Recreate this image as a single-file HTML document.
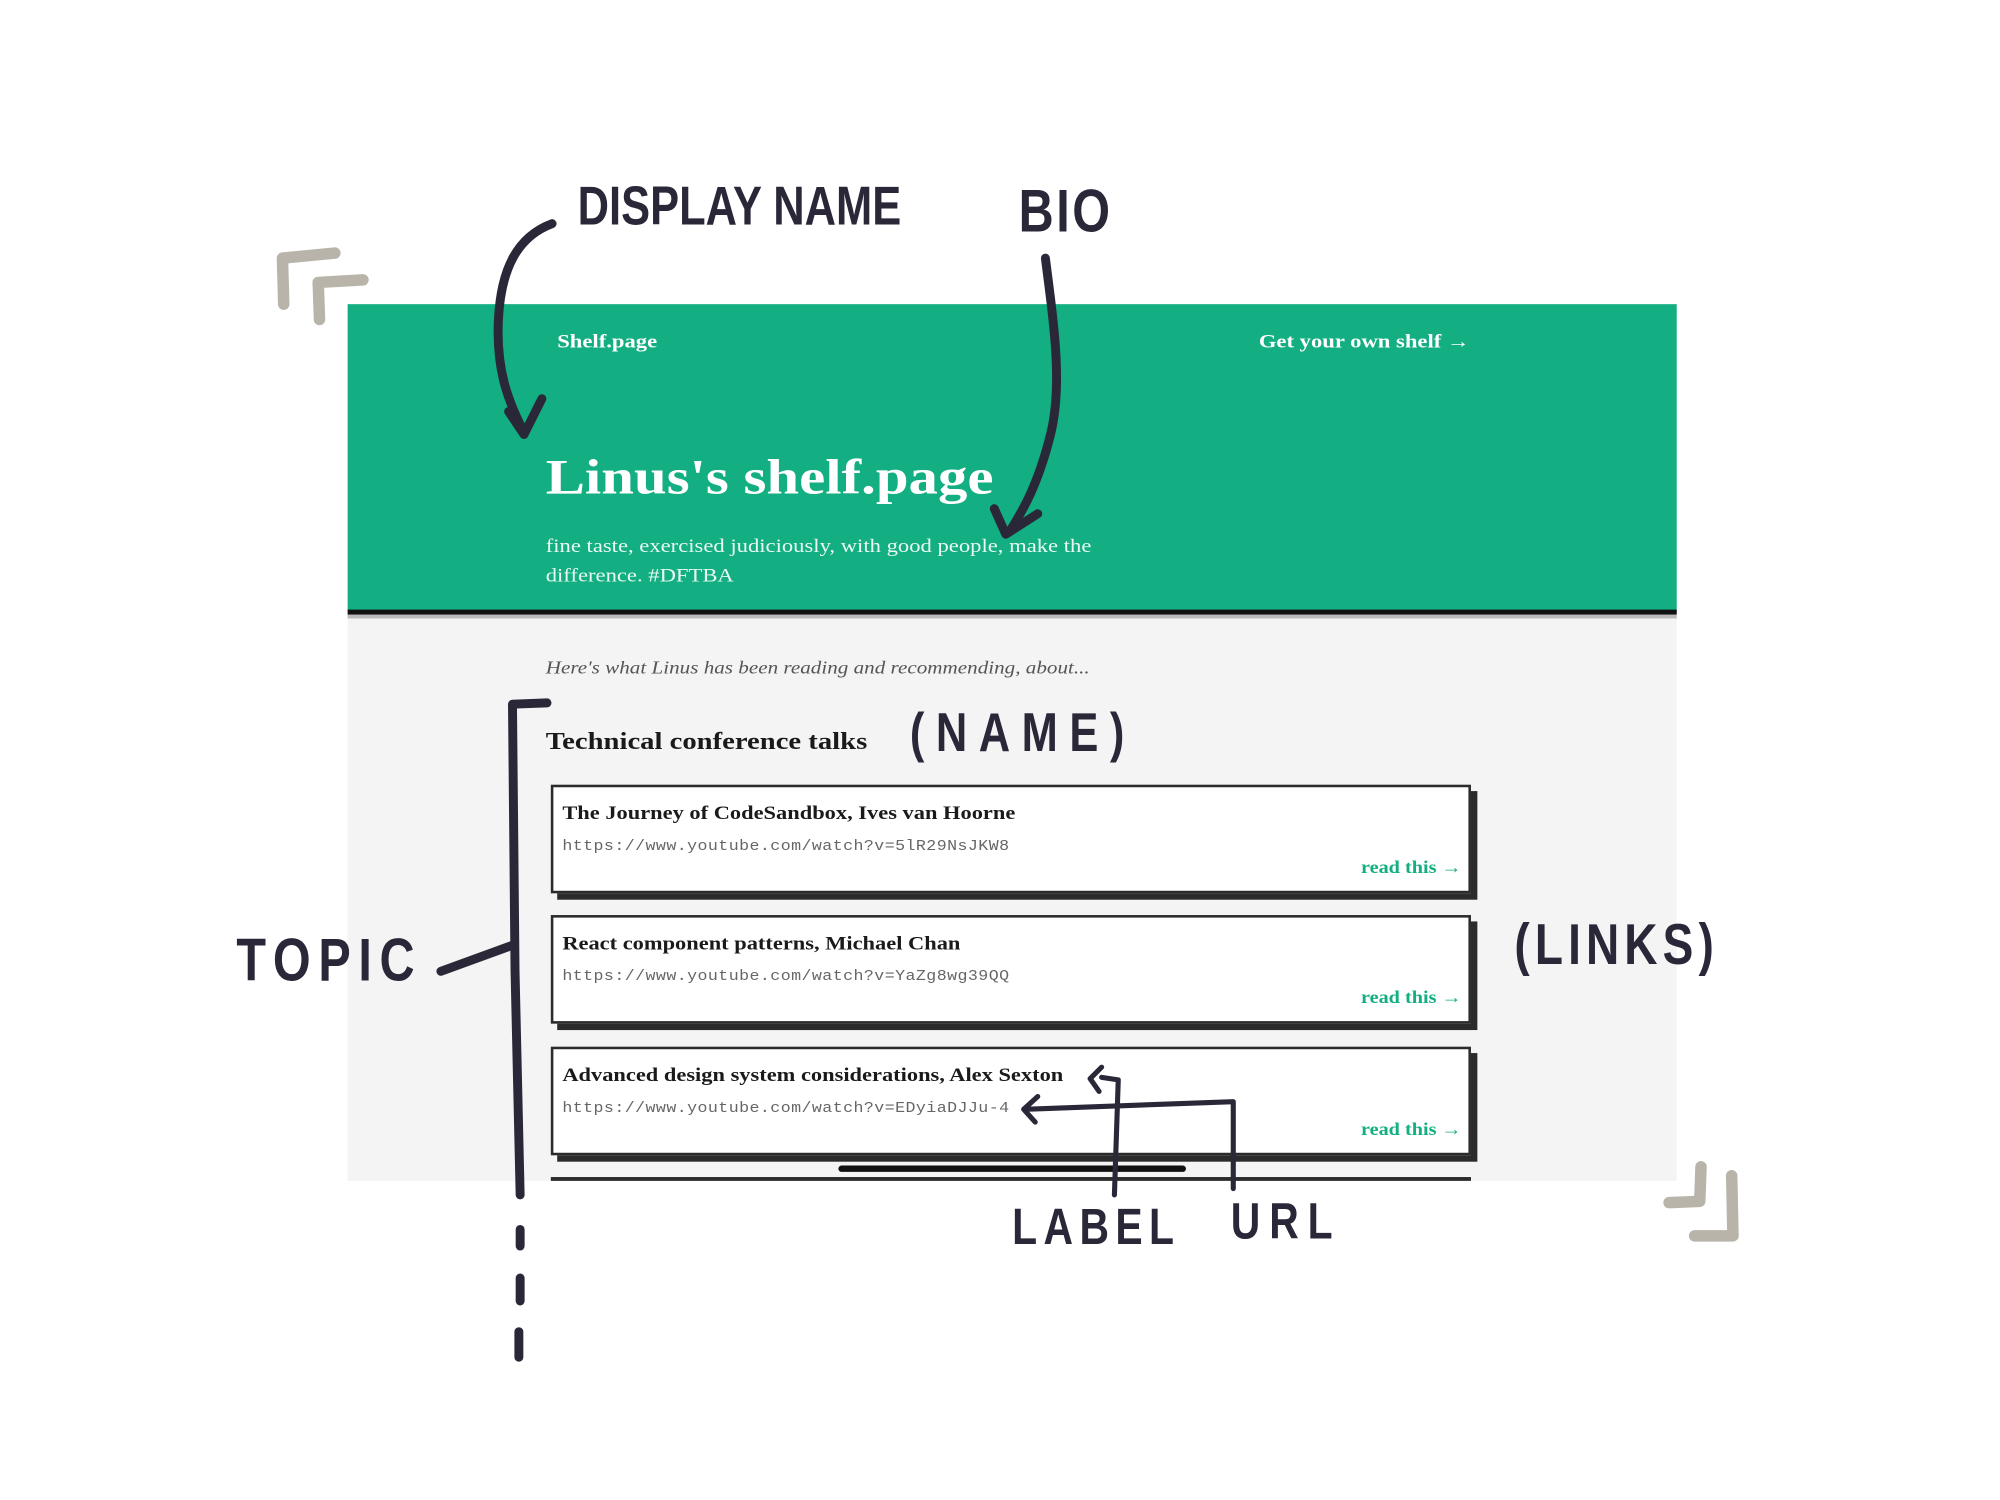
<!DOCTYPE html>
<html><head><meta charset="utf-8"><style>
html,body{margin:0;padding:0;background:#fff;width:2000px;height:1500px;overflow:hidden}
#w{position:absolute;left:0;top:0;width:1562px;height:1172px;transform:scale(1.278,1.278);transform-origin:0 0;font-family:"Liberation Serif",serif}
.a{position:absolute;white-space:nowrap;transform:scaleX(1.18);transform-origin:0 0}
.hdr{position:absolute;left:272px;top:238px;width:1040px;height:240px;background:#13ae81}
.bb{position:absolute;left:272px;top:477px;width:1040px;height:4px;background:#111}
.bs{position:absolute;left:272px;top:481px;width:1040px;height:3px;background:#bbb}
.gray{position:absolute;left:272px;top:484px;width:1040px;height:440px;background:#f4f4f4}
.card{position:absolute;left:431px;width:716px;height:81px;background:#fff;border:2px solid #2b2b2b;box-shadow:5px 5px 0 #2b2b2b}
.ct{position:absolute;left:7px;top:13px;font-weight:bold;font-size:15px;color:#1a1a1a;transform:scaleX(1.17);transform-origin:0 0;white-space:nowrap}
.cu{position:absolute;left:7px;top:40px;font-family:"Liberation Mono",monospace;font-size:11.5px;color:#666;letter-spacing:0.3px;transform:scaleX(1.13);transform-origin:0 0;white-space:nowrap}
.cr{position:absolute;right:5px;top:56px;font-weight:bold;font-size:14px;color:#13ae81;transform:scaleX(1.13);transform-origin:100% 0;white-space:nowrap}
.hw{position:absolute;font-family:"Liberation Sans Narrow","Liberation Sans",sans-serif;font-weight:bold;color:#2a2838;white-space:nowrap;transform:scaleY(1.25);transform-origin:0 0}
</style></head><body><div id="w">
<div class="hdr"></div><div class="bb"></div><div class="bs"></div><div class="gray"></div>
<div class="a" style="left:436px;top:260px;font-size:15px;font-weight:bold;color:#fff">Shelf.page</div>
<div class="a" style="left:985px;top:260px;font-size:15px;font-weight:bold;color:#fff">Get your own shelf →</div>
<div class="a" style="left:427px;top:351px;font-size:39px;font-weight:bold;color:#fff">Linus's shelf.page</div>
<div class="a" style="left:427px;top:417px;font-size:15px;line-height:23px;color:#eafaf3">fine taste, exercised judiciously, with good people, make the<br>difference. #DFTBA</div>
<div class="a" style="left:427px;top:516px;font-size:14px;font-style:italic;color:#555">Here's what Linus has been reading and recommending, about...</div>
<div class="a" style="left:427px;top:570px;font-size:19px;font-weight:bold;color:#1a1a1a">Technical conference talks</div>
<div class="card" style="top:614px"><div class="ct">The Journey of CodeSandbox, Ives van Hoorne</div><div class="cu">https://www.youtube.com/watch?v=5lR29NsJKW8</div><div class="cr">read this →</div></div>
<div class="card" style="top:716px"><div class="ct">React component patterns, Michael Chan</div><div class="cu">https://www.youtube.com/watch?v=YaZg8wg39QQ</div><div class="cr">read this →</div></div>
<div class="card" style="top:819px"><div class="ct">Advanced design system considerations, Alex Sexton</div><div class="cu">https://www.youtube.com/watch?v=EDyiaDJJu-4</div><div class="cr">read this →</div></div>
<div style="position:absolute;left:431px;top:921px;width:720px;height:3px;background:#2b2b2b"></div>
<div style="position:absolute;left:656px;top:912px;width:272px;height:5px;border-radius:3px;background:#111"></div>

<div class="hw" style="left:452px;top:138px;font-size:34px;letter-spacing:0px">DISPLAY NAME</div>
<div class="hw" style="left:797px;top:140px;font-size:38px;letter-spacing:2px">BIO</div>
<div class="hw" style="left:712px;top:550px;font-size:34px;letter-spacing:9px">(NAME)</div>
<div class="hw" style="left:1185px;top:713px;font-size:36px;letter-spacing:4px">(LINKS)</div>
<div class="hw" style="left:185px;top:726px;font-size:38px;letter-spacing:6px">TOPIC</div>
<div class="hw" style="left:792px;top:937px;font-size:32px;letter-spacing:5px">LABEL</div>
<div class="hw" style="left:963px;top:933px;font-size:32px;letter-spacing:7px">URL</div>

<svg width="1562" height="1172" style="position:absolute;left:0;top:0" fill="none" stroke-linecap="round" stroke-linejoin="round">
<g stroke="#b8b4aa" stroke-width="9">
<path d="M222 238 L221 202 L262 198"/><path d="M250 250 L249 221 L284 219"/>
<path d="M1355 920 L1356 967 L1326 967"/><path d="M1306 941 L1330 940 L1331 913"/>
</g>
<g stroke="#2a2838" stroke-width="7">
<path d="M432 175 C405 185 392 210 390 250 C388 290 398 315 410 338"/>
<path d="M398 322 L410 340 L424 312"/>
<path d="M818 202 C824 250 832 300 822 340 C812 380 800 400 790 416"/>
<path d="M778 398 L787 418 L812 402"/>
<path d="M428 550 L401 551 L403 760 L407 935"/>
<path d="M407 962 L407 975 M407 1000 L407 1018 M406 1042 L406 1062"/>
<path d="M345 760 L400 740"/>
</g>
<g stroke="#2a2838" stroke-width="4">
<path d="M872 935 L875 845 L862 843"/>
<path d="M862 835 L853 844 L860 854"/>
<path d="M965 930 L965 862 L802 868"/>
<path d="M812 858 L801 868 L810 878"/>
</g>
</svg>
</div></body></html>
